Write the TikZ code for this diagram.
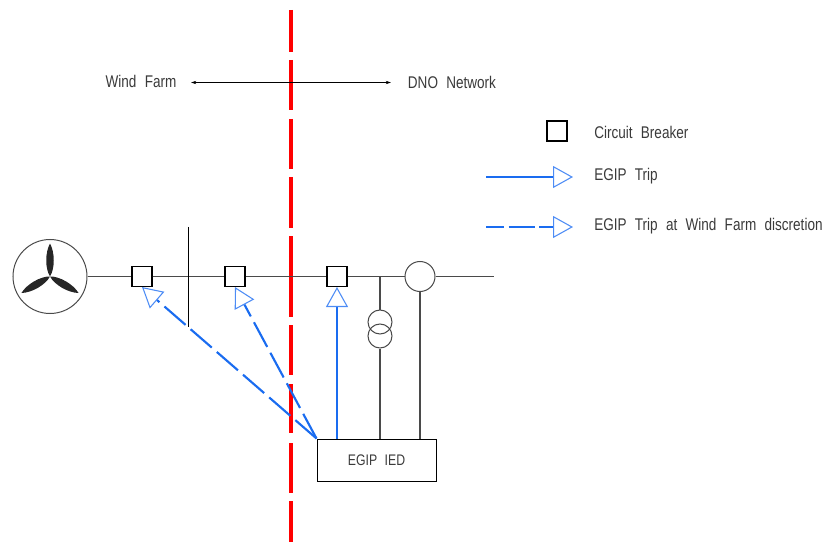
\documentclass[tikz,border=0pt]{standalone}
\usepackage{fontspec}
\usepackage{xcolor}
\usetikzlibrary{arrows.meta}
\setmainfont{Liberation Sans}[FakeStretch=0.8,WordSpace=2.2]
\definecolor{tripblue}{HTML}{1A6CF0}
\definecolor{tiplight}{HTML}{4D8CF5}
\definecolor{buscol}{HTML}{4A4A4A}
\definecolor{txtcol}{HTML}{3A3A3A}
\tikzset{
  bus/.style={draw=buscol,line width=0.85pt},
  cb/.style={draw=black,fill=white,line width=0.8pt,minimum size=15pt,inner sep=0pt},
  ring/.style={circle,draw=buscol,line width=0.75pt,inner sep=0pt},
  lbl/.style={text=txtcol,font=\fontsize{12.7}{14}\selectfont,inner sep=0pt},
  triptip/.style={-{Triangle[open,length=15pt,width=16.5pt,line width=0.8pt,color=tiplight]}},
  trip/.style={draw=tripblue,line width=2pt,triptip},
  tripd/.style={draw=tripblue,line width=1.6pt,triptip},
}
\begin{document}
\begin{tikzpicture}[x=0.75pt,y=-0.75pt]
    \useasboundingbox (0,0) rectangle (826,542);
    \coordinate (Rtop) at (291,10);
    \coordinate (Rbot) at (291,542);
    \draw[red,line width=3pt,dash pattern=on 31.5pt off 6pt on 37.5pt off 6.75pt on 37.5pt off 6pt on 38.25pt off 6pt on 60.75pt off 6pt on 37.5pt off 6.75pt on 36.75pt off 7.5pt on 37.5pt off 6pt on 40pt off 6pt] (Rtop) -- (Rbot);
    \node[lbl] at (141,81.5) (Wind) {Wind Farm};
    \node[lbl] at (452,82.5) (DNO) {DNO Network};
    \coordinate (Al) at (191,82.5);
    \coordinate (Ar) at (391,82.5);
    \draw[{Stealth[length=4pt,width=2.5pt]}-{Stealth[length=4pt,width=2.5pt]},line width=0.5pt] (Al) -- (Ar);
    \node[cb] at (557,131) (CBkey) {};
    \node[lbl,anchor=west] at (594,132) (CBtxt) {Circuit Breaker};
    \node[lbl,anchor=west] at (594,176.5) (Trtxt) {EGIP Trip};
    \node[lbl,anchor=west] at (594,226.5) (Tdtxt) {EGIP Trip at Wind Farm discretion};
    \coordinate (Ka) at (486,177);
    \coordinate (Kb) at (573,177);
    \coordinate (Kc) at (486,227);
    \coordinate (Kd) at (573,227);
    \draw[trip] (Ka) -- (Kb);
    \draw[tripd,dash pattern=on 13.5pt off 3.5pt on 19.5pt off 3.5pt] (Kc) -- (Kd);
    \node[ring,minimum size=55.5pt] at (50,276.5) (TB) {};
    \foreach \r in {90,210,330}
        \fill[black!85,shift={(50,276.5)},rotate=\r] (0,0) .. controls (8,5) and (24,5) .. (33,0) .. controls (24,-5) and (8,-5) .. (0,0);
    \node[cb] at (142,276.5) (CB1) {};
    \node[cb] at (235,276.5) (CB2) {};
    \node[cb] at (337,276.5) (CB3) {};
    \node[ring,minimum size=22.5pt] at (420,276.5) (Gen) {};
    \node[ring,minimum size=18pt] at (380,322) (T1) {};
    \node[ring,minimum size=18pt] at (380,336) (T2) {};
    \node[draw=black,line width=0.75pt,minimum width=89.25pt,minimum height=31.5pt,inner sep=0pt,text=txtcol,font=\fontsize{11.5}{13}\selectfont] at (376.5,460) (IED) {EGIP IED};
    \coordinate (Barup) at (188,227);
    \coordinate (Bardn) at (188,327);
    \coordinate (Tap) at (380,276.5);
    \coordinate (End) at (494,276.5);
    \draw[bus] (TB) -- (CB1);
    \draw[bus] (CB1) -- (CB2);
    \draw[bus] (CB2) -- (CB3);
    \draw[bus] (CB3) -- (Gen);
    \draw[bus] (Gen) -- (End);
    \draw[black,line width=0.75pt] (Barup) -- (Bardn);
    \draw[bus] (Tap) -- (T1);
    \draw[bus] (T2) -- (T2 |- IED.north);
    \draw[bus] (Gen) -- (Gen |- IED.north);
    \draw[trip] (CB3 |- IED.north) -- (CB3.south);
    \draw[tripd,dash pattern=on 21pt off 5pt] (IED.north west) -- (CB2.south);
    \draw[tripd,dash pattern=on 21pt off 5pt] (IED.north west) -- (CB1.south);
\end{tikzpicture}
\end{document}
